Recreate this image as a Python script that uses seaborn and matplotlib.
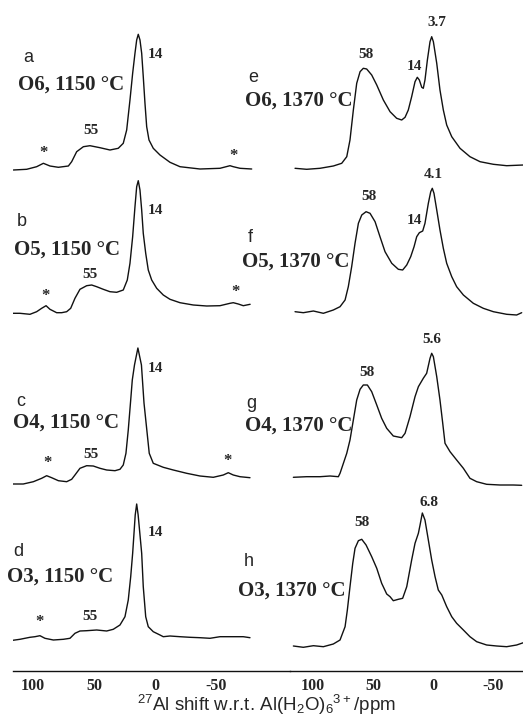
import seaborn as sns
import matplotlib.pyplot as plt
import pandas as pd

# 27Al MAS NMR spectra (ppm, intensity above baseline)
a_ppm = [116.1, 105.2, 97.0, 91.5, 86.1, 79.2, 71.0, 68.3, 64.2, 58.7, 53.3, 45.1, 36.9, 30.1, 26.0, 23.2,
         20.5, 18.3, 16.4, 15.0, 13.7, 12.3, 10.9, 9.6, 8.2, 6.8, 4.9, 1.4, -4.1, -12.3, -20.5, -36.9,
         -53.3, -61.5, -64.2, -69.7, -79.3]
a_int = [0, 0.7, 3.3, 6.7, 4, 2.7, 4, 8.3, 18.3, 23.3, 24.3, 22.3, 20, 21.7, 26.7, 40,
         70, 96.7, 116.7, 130, 135.7, 130, 116.7, 93.3, 66.7, 43.3, 30, 21.7, 15, 7.7, 3.3, 1,
         1.7, 4.3, 3.3, 1.7, 1]

b_ppm = [117.5, 110.7, 102.5, 97.0, 92.9, 89.3, 86.1, 80.6, 76.5, 72.4, 69.1, 65.6, 61.5, 56.0, 51.9, 47.8,
         42.4, 36.9, 31.4, 26.0, 22.7, 20.5, 18.3, 16.4, 15.0, 13.7, 12.3, 10.9, 9.6, 7.6, 5.5, 2.7,
         -1.4, -6.8, -12.3, -20.5, -31.4, -42.4, -53.3, -61.5, -64.2, -68.3, -72.4, -78.0]
b_int = [-0.3, -0.3, -1.3, 1.3, 4.7, 7.3, 3.7, 0.3, 0.3, 1.3, 4.7, 14.7, 23.7, 27.3, 28, 26.3,
         23.7, 21.3, 20.7, 23, 33, 49.7, 76.3, 106.3, 126.3, 132.3, 123, 103, 79.7, 59.7, 43, 33,
         24.7, 18, 13.7, 10.3, 8, 7, 7.3, 9.7, 10.3, 9, 7.3, 8.7]

c_ppm = [117.5, 108.0, 99.7, 92.9, 88.8, 84.7, 79.2, 72.4, 68.3, 65.6, 61.5, 56.0, 50.6, 45.1, 39.6, 32.8,
         28.7, 26.0, 23.8, 21.9, 19.9, 18.6, 16.8, 14.0, 11.1, 9.0, 4.7, 1.4, -6.8, -15.0, -26.0, -36.9,
         -47.8, -56.0, -60.1, -64.2, -69.7, -77.9]
c_int = [-1, -1, 1.3, 4.7, 7.3, 5.3, 2.3, 1.3, 3.7, 8, 14.7, 17.3, 17, 14.7, 13, 12.3,
         13.7, 18, 29.7, 53, 83, 103, 118, 135, 118, 80, 29.7, 19.7, 15.7, 13, 9.7, 7,
         5.7, 8, 10.3, 8, 6.3, 5.3]

d_ppm = [118.9, 110.7, 102.5, 98.4, 94.3, 90.2, 83.3, 75.1, 69.7, 65.6, 61.5, 56.0, 47.8, 39.6, 34.2, 28.7,
         24.6, 21.9, 19.9, 18.3, 17.2, 16.2, 15.0, 13.8, 10.9, 9.6, 7.6, 5.5, 1.4, -4.1, -6.8, -12.3,
         -20.5, -28.7, -36.9, -45.1, -53.3, -64.2, -72.4, -77.9]
d_int = [-0.7, 0.7, 2.7, 3.3, 4.3, 1.7, 0, 0.7, 1.7, 6.7, 9, 9.3, 10, 9, 10.7, 15,
         23.3, 40, 63.3, 86.7, 106.7, 125, 136, 125, 86.7, 53.3, 23.3, 13.3, 8.3, 5, 3.3, 4,
         3.3, 2.7, 2.3, 1.7, 3.3, 3.3, 3.3, 2.3]

e_ppm = [115.0, 105.3, 94.2, 83.1, 76.1, 71.9, 69.2, 66.4, 63.6, 60.8, 58.1, 55.3, 51.1, 46.9, 41.4, 35.8,
         30.3, 26.1, 23.3, 20.6, 17.8, 15.0, 13.1, 11.4, 9.4, 8.1, 6.7, 4.7, 2.5, 1.1, -0.3, -3.1,
         -5.8, -8.6, -11.4, -15.6, -22.5, -30.8, -39.2, -50.3, -61.4, -75.3]
e_int = [-0.3, -1.3, -0.3, 2, 4.7, 11.3, 28, 58, 84.7, 96.3, 99.7, 99, 93, 83, 68, 56.3,
         49.7, 48, 50.7, 58, 71.3, 86.3, 90.7, 88, 80.7, 79.7, 88, 108, 126.3, 131.3, 126.3, 104.7,
         78, 58, 43, 31.3, 19.7, 11.3, 6.3, 3.7, 2.3, 3]

f_ppm = [115.0, 108.1, 99.7, 91.4, 83.1, 77.5, 73.3, 70.6, 67.8, 65.0, 62.2, 59.4, 55.8, 52.5, 48.3, 44.2,
         40.0, 34.4, 28.9, 25.3, 21.9, 18.6, 15.8, 13.6, 11.4, 8.6, 6.7, 3.9, 1.9, 0.6, -0.8, -3.1,
         -5.8, -8.6, -11.4, -15.6, -19.7, -25.3, -33.6, -41.9, -50.3, -61.4, -69.7, -73.9]
f_int = [1.3, 0.3, 2, -0.3, 3, 6.3, 13, 26.3, 46.3, 69.7, 89.7, 98, 101.3, 99.7, 91.3, 76.3,
         61.3, 49.7, 43.7, 43, 48, 56.3, 66.3, 76.3, 80.3, 82, 89.7, 109.7, 121.3, 124.7, 119.7, 103,
         83, 64.7, 49.7, 36.3, 26.3, 18, 9.7, 4.7, 1.3, -1.3, -2, 0.3]

g_ppm = [116.4, 105.3, 94.2, 85.8, 78.9, 77.5, 74.7, 71.9, 69.2, 66.4, 63.6, 60.8, 58.1, 54.7, 51.1, 46.9,
         42.8, 38.6, 33.1, 26.1, 23.3, 19.2, 15.0, 12.2, 8.1, 5.3, 2.5, 1.1, -0.3, -3.1, -5.8, -8.1,
         -10.0, -14.2, -19.7, -25.3, -30.8, -36.4, -44.7, -55.8, -66.9, -73.9]
g_int = [4.7, 5.3, 5.3, 6, 5.3, 8.7, 18.7, 28.7, 42, 62, 82, 92.7, 97, 97, 90.3, 77,
         63.7, 53.7, 46, 44.3, 48.7, 65.3, 85.3, 95.3, 103.7, 108.7, 123.7, 128.7, 125.3, 105.3, 82, 58.7,
         38.7, 30.3, 22, 13.7, 3.7, 0.3, -2.3, -3, -3, -3.3]

h_ppm = [116.4, 108.1, 99.7, 91.4, 83.1, 77.5, 73.3, 71.4, 69.2, 66.9, 65.0, 62.2, 59.4, 55.8, 51.1, 46.9,
         42.8, 38.6, 35.8, 33.1, 28.9, 25.3, 21.9, 17.8, 15.0, 12.2, 10.8, 8.9, 6.7, 3.9, 1.1, -1.7,
         -4.4, -7.3, -11.4, -15.6, -19.7, -25.3, -30.8, -36.4, -44.7, -53.1, -61.4, -69.7, -75.3]
h_int = [0, -1.3, 0.3, -0.7, 2, 6, 19.3, 36, 59.3, 82.7, 97.7, 105.3, 106.7, 101, 89.3, 77.7,
         62.7, 52, 49.3, 45.3, 46.7, 47.7, 59.3, 86, 102.7, 112.7, 121, 133, 126, 106, 86, 69.3,
         56, 51, 39.3, 29.3, 22.7, 16, 9.3, 4.3, 1, 0, -0.7, 1, 3.3]

spectra = {"a": (a_ppm, a_int), "b": (b_ppm, b_int), "c": (c_ppm, c_int), "d": (d_ppm, d_int),
           "e": (e_ppm, e_int), "f": (f_ppm, f_int), "g": (g_ppm, g_int), "h": (h_ppm, h_int)}

samples = {"a": "O6, 1150 °C", "b": "O5, 1150 °C", "c": "O4, 1150 °C", "d": "O3, 1150 °C",
           "e": "O6, 1370 °C", "f": "O5, 1370 °C", "g": "O4, 1370 °C", "h": "O3, 1370 °C"}

tick_ppm = [100, 50, 0, -50]
tick_labels = ["100", "50", "0", "-50"]

# layout (pixels in the 523x718 picture)
W, H = 523, 718
axis_y = 670.7
baseline = {"a": 170, "b": 313, "c": 483, "d": 640, "e": 168, "f": 313, "g": 482, "h": 646}

sns.set_style("white")
plt.rcParams["mathtext.default"] = "regular"

fig = plt.figure(figsize=(W / 100, H / 100), dpi=100)
ax_l = fig.add_axes([13 / W, 1 - axis_y / H, 277 / W, axis_y / H])
ax_r = fig.add_axes([290 / W, 1 - axis_y / H, 233 / W, axis_y / H])

for ax, keys, xlim in [(ax_l, "abcd", (116.4, -110.7)), (ax_r, "efgh", (119.2, -75.0))]:
    rows = []
    for k in keys:
        ppm, inten = spectra[k]
        for p, v in zip(ppm, inten):
            rows.append({"panel": k, "ppm": p, "y": v + axis_y - baseline[k]})
    df = pd.DataFrame(rows)
    sns.lineplot(data=df, x="ppm", y="y", units="panel", estimator=None, sort=True,
                 color="#111111", lw=1.0, ax=ax)
    ax.set_xlim(*xlim)
    ax.set_ylim(0, axis_y)
    ax.set_facecolor("none")
    for s in ["top", "left", "right"]:
        ax.spines[s].set_visible(False)
    ax.spines["bottom"].set_color("#111111")
    ax.spines["bottom"].set_linewidth(1.0)
    ax.set_yticks([])
    ax.set_xticks(tick_ppm)
    ax.set_xticklabels(tick_labels, fontfamily="Liberation Serif", fontweight="bold", fontsize=11.5)
    ax.tick_params(axis="x", direction="in", length=5, width=1.0, pad=5, color="#111111")
    ax.set_xlabel("")
    ax.set_ylabel("")


def put(x, y, s, **kw):
    fig.text(x / W, 1 - y / H, s, va="center", **kw)


serif_b = dict(fontfamily="Liberation Serif", fontweight="bold")
sans = dict(fontfamily="Liberation Sans")

# panel letters and sample names
letters = {"a": (23, 58), "b": (17, 222), "c": (16, 402), "d": (13, 552),
           "e": (248, 77), "f": (248, 237), "g": (246, 403), "h": (244, 562)}
names = {"a": (18, 85), "b": (14, 250), "c": (13, 423), "d": (7, 577),
         "e": (245, 101), "f": (242, 262), "g": (245, 426), "h": (238, 591)}
for k in "abcdefgh":
    put(*letters[k], k, fontsize=13, **sans)
    put(*names[k], samples[k], fontsize=15, **serif_b)

# peak labels
peak_labels = [(155, 54, "14"), (91, 131, "55"), (155, 210, "14"), (90, 275, "55"),
               (155, 369, "14"), (91, 454, "55"), (155, 532, "14"), (90, 617, "55"),
               (366, 55, "58"), (414, 66, "14"), (437, 22, "3.7"),
               (369, 197, "58"), (414, 221, "14"), (433, 175, "4.1"),
               (367, 373, "58"), (432, 340, "5.6"),
               (362, 523, "58"), (429, 502, "6.8")]
for x, y, s in peak_labels:
    put(x, y, s, ha="center", fontsize=11, **serif_b)

stars = [(43, 153), (233, 156), (46, 296), (236, 292), (48, 463), (228, 461), (40, 622)]
for x, y in stars:
    put(x, y, "*", ha="center", fontsize=12, **serif_b)

put(267, 705, "$^{27}$Al shift w.r.t. Al(H$_2$O)$_6$$^{3+}$/ppm", ha="center", fontsize=13.5, **sans)

fig.savefig("out.png", dpi=100)
